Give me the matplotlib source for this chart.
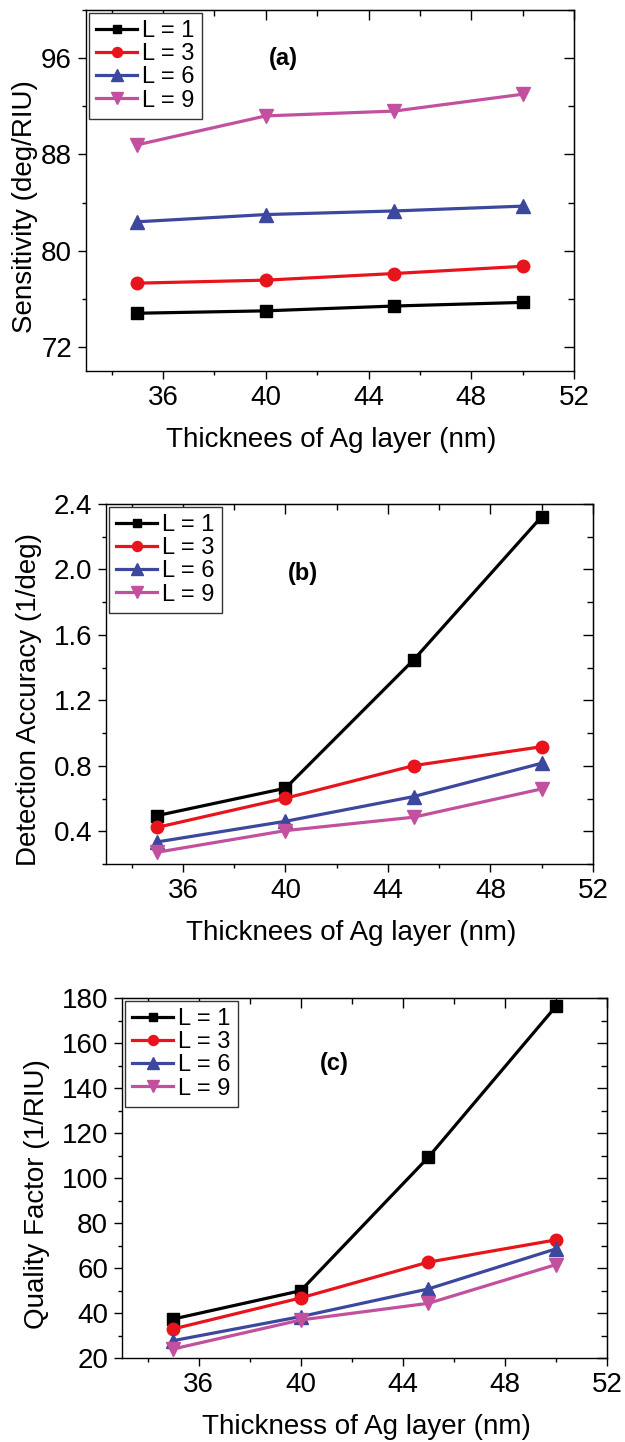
import matplotlib
matplotlib.use("Agg")
import matplotlib.pyplot as plt
from matplotlib.ticker import MultipleLocator

plt.rcParams["font.family"] = ["Liberation Sans", "DejaVu Sans"]

thickness = [35, 40, 45, 50]
labels = ["L = 1", "L = 3", "L = 6", "L = 9"]
colors = ["#000000", "#e8141c", "#3c489e", "#c2509f"]
markers = ["s", "o", "^", "v"]
msizes = [8, 9, 10, 10]

# (a) sensitivity, deg/RIU
sens_L1 = [74.8, 75.0, 75.4, 75.7]
sens_L3 = [77.3, 77.55, 78.1, 78.7]
sens_L6 = [82.4, 83.0, 83.3, 83.7]
sens_L9 = [88.8, 91.2, 91.6, 93.0]

# (b) detection accuracy, 1/deg
da_L1 = [0.496, 0.663, 1.447, 2.323]
da_L3 = [0.424, 0.602, 0.801, 0.917]
da_L6 = [0.335, 0.461, 0.612, 0.816]
da_L9 = [0.272, 0.404, 0.486, 0.659]

# (c) quality factor, 1/RIU
qf_L1 = [37.3, 49.9, 109.2, 176.3]
qf_L3 = [32.9, 46.7, 62.6, 72.5]
qf_L6 = [27.7, 38.4, 50.7, 68.5]
qf_L9 = [24.0, 36.9, 44.3, 61.5]

W, H = 625, 1442
fig = plt.figure(figsize=(W / 100, H / 100), dpi=100)


def make_axes(left, top, right, bottom):
    return fig.add_axes([left / W, 1 - bottom / H, (right - left) / W, (bottom - top) / H])


def style(ax, ylim, ymajor, yminor, ylabel, xlabel, tag, tagpos, ylab_x):
    ax.set_xlim(33, 52)
    ax.set_ylim(*ylim)
    ax.xaxis.set_major_locator(MultipleLocator(4))
    ax.xaxis.set_minor_locator(MultipleLocator(2))
    ax.yaxis.set_major_locator(MultipleLocator(ymajor))
    ax.yaxis.set_minor_locator(MultipleLocator(yminor))
    ax.tick_params(which="both", direction="out", labelsize=20, width=1)
    ax.tick_params(which="major", length=6, pad=4)
    ax.tick_params(which="minor", length=3)
    for s in ax.spines.values():
        s.set_linewidth(1)

    # inward ticks on top and right, no labels
    top = ax.secondary_xaxis("top")
    top.xaxis.set_major_locator(MultipleLocator(4))
    top.xaxis.set_minor_locator(MultipleLocator(2))
    top.tick_params(which="both", direction="in", labeltop=False, width=1)
    top.tick_params(which="major", length=7)
    top.tick_params(which="minor", length=4)
    right = ax.secondary_yaxis("right")
    right.yaxis.set_major_locator(MultipleLocator(ymajor))
    right.yaxis.set_minor_locator(MultipleLocator(yminor))
    right.tick_params(which="both", direction="in", labelright=False, width=1)
    right.tick_params(which="major", length=7)
    right.tick_params(which="minor", length=4)

    ax.set_ylabel(ylabel, fontsize=20)
    ax.set_xlabel(xlabel, fontsize=20)
    ax.yaxis.set_label_coords(ylab_x, 0.456)
    ax.xaxis.set_label_coords(0.503, -0.155)
    ax.text(tagpos[0], tagpos[1], tag, transform=ax.transAxes, fontsize=17,
            fontweight="bold", ha="center", va="center")
    leg = ax.legend(loc="upper left", bbox_to_anchor=(0.006, 0.992), borderaxespad=0,
                    fontsize=17, handlelength=1.75, handletextpad=0.2, labelspacing=0.05,
                    borderpad=0.3, fancybox=False, edgecolor="#333333", framealpha=1,
                    markerscale=0.8)
    leg.get_frame().set_linewidth(1)


def draw(ax, series):
    for ys, lab, c, m, ms in zip(series, labels, colors, markers, msizes):
        ax.plot(thickness, ys, color=c, marker=m, markersize=ms, lw=2.3, label=lab,
                markeredgecolor=c)


ax_a = make_axes(86, 10, 574, 371)
draw(ax_a, [sens_L1, sens_L3, sens_L6, sens_L9])
style(ax_a, (70, 100), 8, 4, "Sensitivity (deg/RIU)", "Thicknees of Ag layer (nm)",
      "(a)", (0.404, 0.867), -0.098)

ax_b = make_axes(106, 504, 593, 864)
draw(ax_b, [da_L1, da_L3, da_L6, da_L9])
style(ax_b, (0.2, 2.4), 0.4, 0.2, "Detection Accuracy (1/deg)", "Thicknees of Ag layer (nm)",
      "(b)", (0.405, 0.808), -0.131)

ax_c = make_axes(122, 998, 607, 1358)
draw(ax_c, [qf_L1, qf_L3, qf_L6, qf_L9])
style(ax_c, (20, 180), 20, 10, "Quality Factor (1/RIU)", "Thickness of Ag layer (nm)",
      "(c)", (0.437, 0.819), -0.148)

fig.savefig("out.png", dpi=100)
